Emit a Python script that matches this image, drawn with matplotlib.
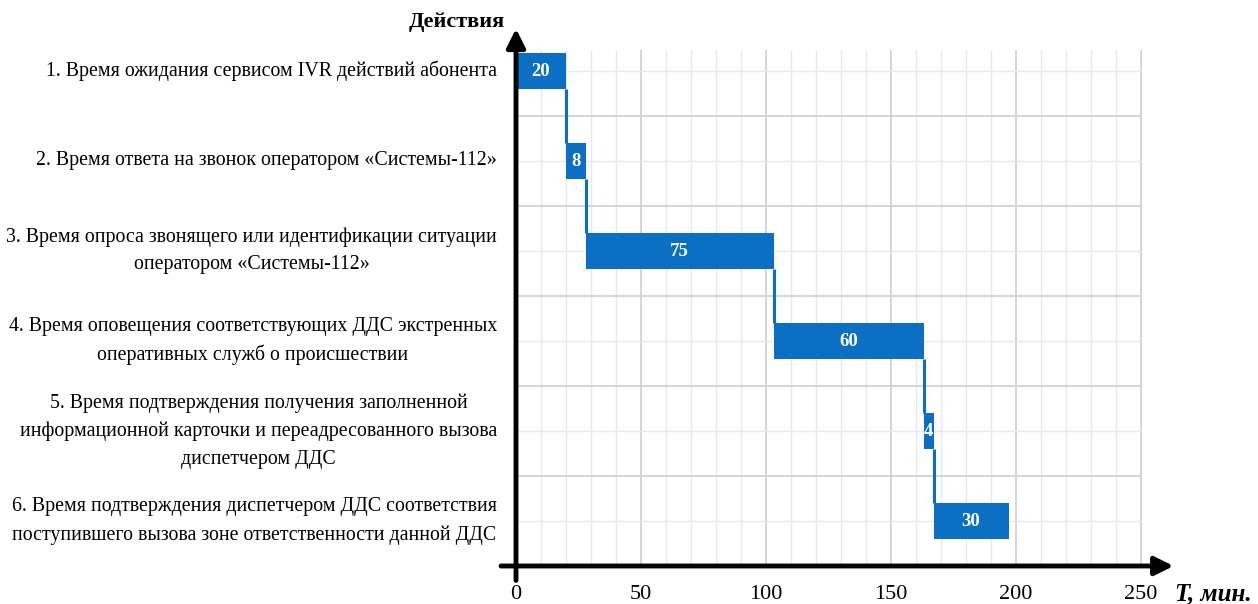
import numpy as np
import matplotlib
matplotlib.use('Agg')
import matplotlib.pyplot as plt

plt.rcParams['font.family'] = ['Liberation Serif', 'DejaVu Serif']

# Этапы обработки вызова и их длительность, мин.
actions = [
    '1. Время ожидания сервисом IVR действий абонента',
    '2. Время ответа на звонок оператором «Системы-112»',
    '3. Время опроса звонящего или идентификации ситуации\nоператором «Системы-112»',
    '4. Время оповещения соответствующих ДДС экстренных\nоперативных служб о происшествии',
    '5. Время подтверждения получения заполненной\nинформационной карточки и переадресованного вызова\nдиспетчером ДДС',
    '6. Время подтверждения диспетчером ДДС соответствия\nпоступившего вызова зоне ответственности данной ДДС',
]
durations = [20, 8, 75, 60, 4, 30]
x_ticks = [0, 50, 100, 150, 200, 250]

blue = '#0b6fc4'
n = len(durations)
starts = np.concatenate([[0], np.cumsum(durations)[:-1]])
ends = starts + np.array(durations)
rows = n + 0.5 - np.arange(1, n + 1)   # 5.5, 4.5, ... 0.5
bar_h = 0.39

fig = plt.figure(figsize=(12.58, 6.04), dpi=100)
ax = fig.add_axes([516 / 1258, 38 / 604, 655 / 1258, 540 / 604])
ax.set_xlim(0, 262)
ax.set_ylim(0, 6)
for s in ax.spines.values():
    s.set_visible(False)

# сетка
grid_top = 5.73
for x in range(10, 251, 10):
    major = x % 50 == 0
    ax.vlines(x, 0, grid_top, color='#d2d2d2' if major else '#e9e9e9',
              lw=1.3 if major else 1.0, zorder=0)
for y in np.arange(0.5, 6, 0.5):
    major = float(y).is_integer()
    ax.hlines(y, 0, 250, color='#d2d2d2' if major else '#e9e9e9',
              lw=1.3 if major else 1.0, zorder=0)

# полосы
ax.barh(rows, durations, left=starts, height=bar_h, color=blue, zorder=3)
for i in range(n - 1):
    ax.vlines(ends[i], rows[i] - bar_h / 2, rows[i + 1] + bar_h / 2,
              color=blue, lw=2.2, zorder=3)
for r, s, d in zip(rows, starts, durations):
    ax.text(s + d / 2, r, str(d), color='white', fontsize=13.5, fontweight='bold',
            ha='center', va='center', zorder=4)

# оси со стрелками
ax.annotate('', xy=(263, 0), xytext=(-6, 0), annotation_clip=False,
            arrowprops=dict(arrowstyle='-|>', lw=3.5, color='black',
                            mutation_scale=28, shrinkA=0, shrinkB=0), zorder=5)
ax.annotate('', xy=(0, 5.97), xytext=(0, -0.16), annotation_clip=False,
            arrowprops=dict(arrowstyle='-|>', lw=3.5, color='black',
                            mutation_scale=28, shrinkA=0, shrinkB=0), zorder=5)

ax.set_yticks([])
ax.set_xticks(x_ticks)
ax.set_xticklabels([str(t) for t in x_ticks], fontsize=16)
ax.tick_params(axis='x', length=0, pad=14)

for r, label in zip(rows, actions):
    ax.text(-7.6, r, label, ha='right', va='center', multialignment='center',
            fontsize=14.3, linespacing=1.6)

ax.text(-4.4, 6.04, 'Действия', ha='right', va='center', fontsize=16,
        fontweight='bold', clip_on=False)
ax.text(263.5, -0.31, 'T, мин.', ha='left', va='center', fontsize=18,
        fontweight='bold', fontstyle='italic', clip_on=False)

fig.savefig('out.png', dpi=100)
